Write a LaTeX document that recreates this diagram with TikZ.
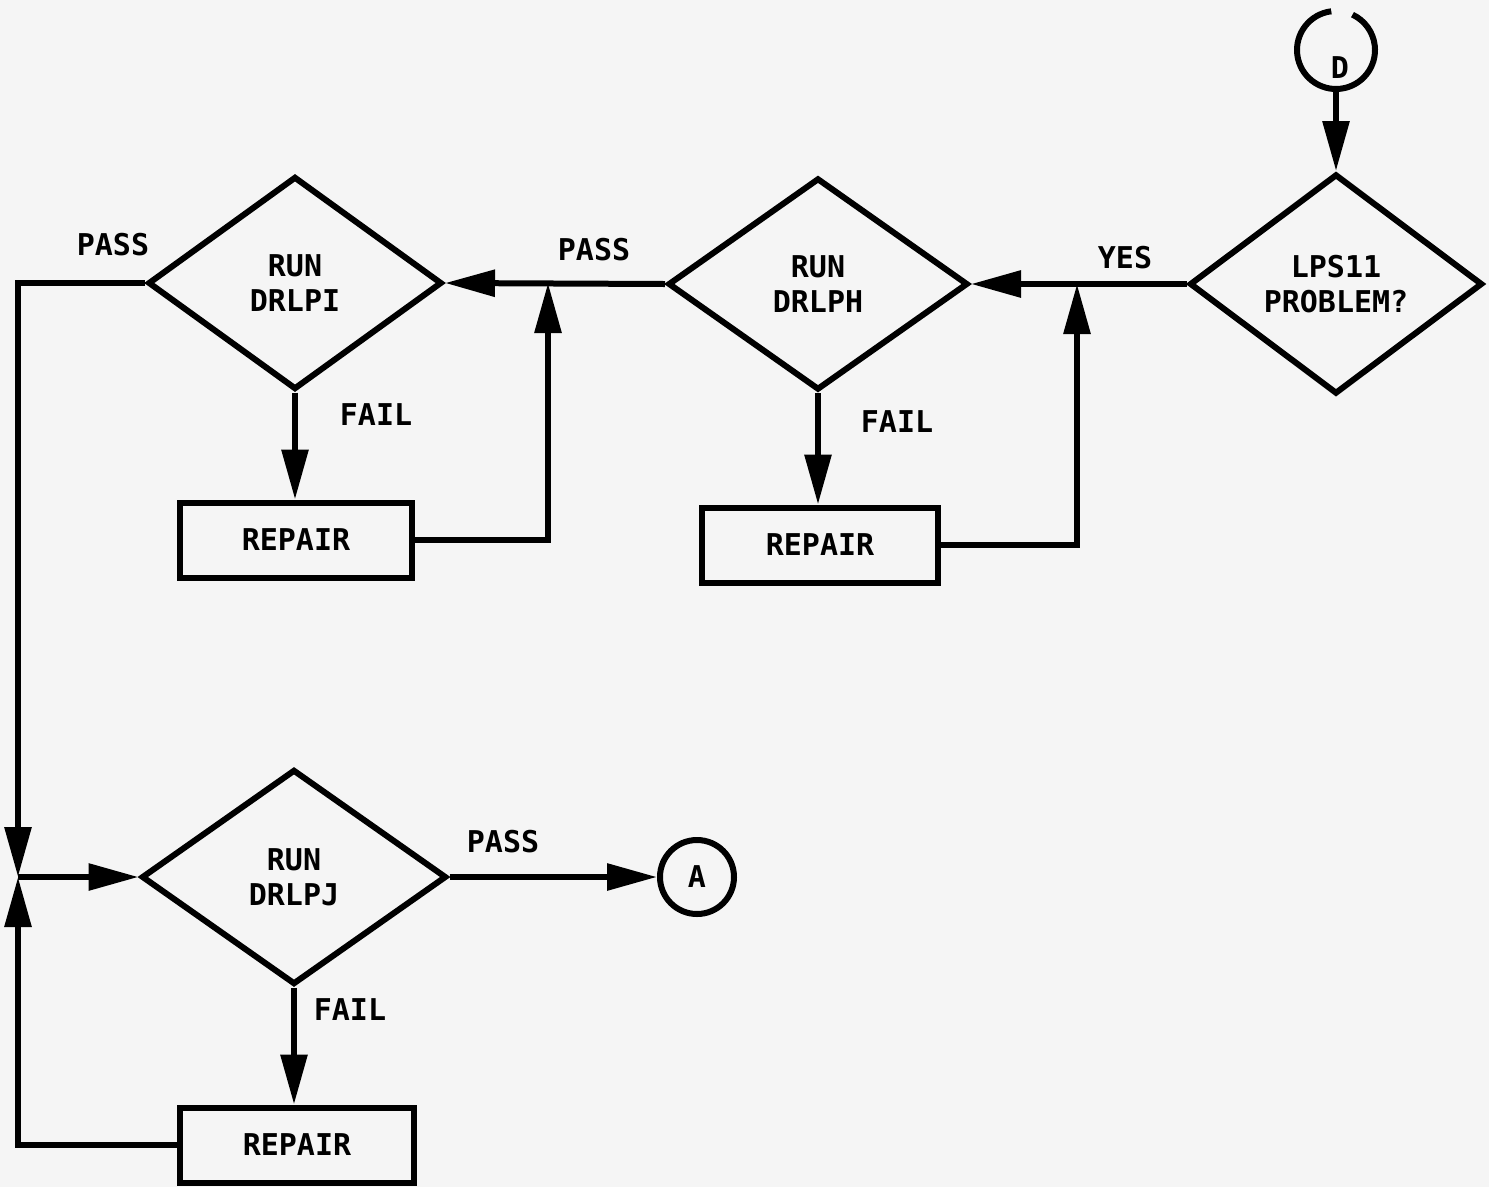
\documentclass[tikz,border=0pt]{standalone}
\usepackage{fontspec}
\setmainfont{DejaVu Sans Mono}
\usetikzlibrary{shapes.geometric,arrows.meta}
\begin{document}
\begin{tikzpicture}[x=1pt,y=-1pt,line width=6pt,
  every node/.style={font=\fontsize{30}{35}\selectfont\bfseries},
  dec/.style={diamond,draw,inner sep=0pt,align=center,minimum width=#1},
  dec/.default=296pt,
  box/.style={rectangle,draw,inner sep=0pt,minimum height=75pt},
  conn/.style={circle,draw,inner sep=0pt,minimum size=74pt},
  lbl/.style={inner sep=0pt},
  arr/.style={-{Triangle[length=50pt,width=26pt]}},
  ln/.style={line join=miter}]
\fill[black!4] (0,0) rectangle (1489,1187);
\useasboundingbox (0,0) rectangle (1489,1187);
% decisions
\node[dec=294pt,minimum height=213pt] (I) at (295,283) {RUN\\DRLPI};
\node[dec=300pt,minimum height=212pt] (H) at (818,284) {RUN\\DRLPH};
\node[dec=293pt,minimum height=220pt] (L) at (1336,284) {LPS11\\PROBLEM?};
\node[dec=305pt,minimum height=215pt] (J) at (294,877) {RUN\\DRLPJ};
% repairs
\node[box,minimum width=232pt] (R1) at (296,540) {REPAIR};
\node[box,minimum width=236pt] (R2) at (820,545) {REPAIR};
\node[box,minimum width=234pt] (R3) at (297,1145) {REPAIR};
% connectors
\node[circle,inner sep=0pt,minimum size=78pt] (D) at (1336,50) {};
\draw ([shift={(97:39pt)}]D.center) arc[start angle=97,end angle=425,radius=39pt];
\node[lbl] (Dt) at (1340,68) {D};
\node[conn] (A) at (697,877) {A};
% junction coordinates
\coordinate (JI) at (548,283);
\coordinate (JH) at (1077,284);
\coordinate (JL) at (18,877);
\coordinate (Ds) at (1336,89);
% labels
\node[lbl] (p1) at (113,245) {PASS};
\node[lbl] (f1) at (376,415) {FAIL};
\node[lbl] (p2) at (594,250) {PASS};
\node[lbl] (f2) at (897,422) {FAIL};
\node[lbl] (y1) at (1125,258) {YES};
\node[lbl] (p3) at (503,842) {PASS};
\node[lbl] (f3) at (350,1010) {FAIL};
% edges
\draw[arr] (Ds) -- (L.north);
\draw[arr] (L.west) -- (H.east);
\draw[arr] (H.west) -- (I.east);
\draw[arr] (I.south) -- (I.south |- R1.north);
\draw[arr] (H.south) -- (H.south |- R2.north);
\draw[arr,ln] (R1.east) -| (JI);
\draw[arr,ln] (R2.east) -| (JH);
\draw[arr,ln] (I.west) -| (JL);
\draw[arr,ln] (R3.west) -| (JL);
\draw[arr] (JL) -- (J.west);
\draw[arr] (J.south) -- (J.south |- R3.north);
\draw[arr] (J.east) -- (A.west);
\end{tikzpicture}
\end{document}
